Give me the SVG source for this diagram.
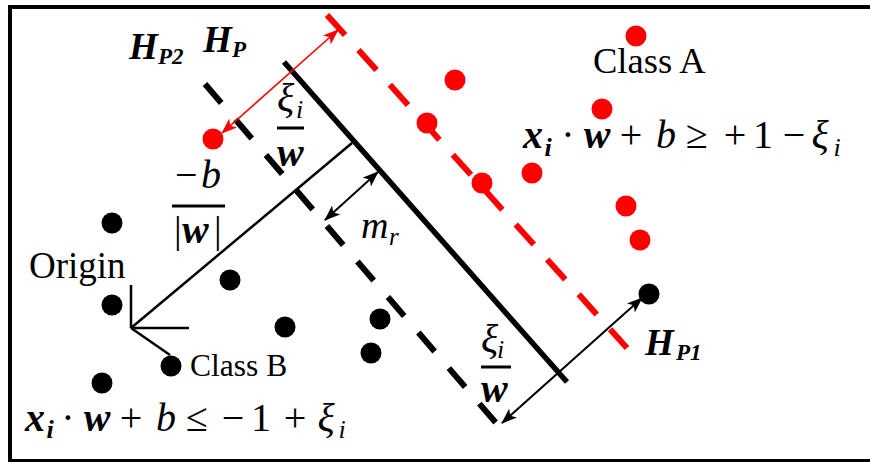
<svg xmlns="http://www.w3.org/2000/svg" width="870" height="462" viewBox="0 0 870 462">
<defs>
<style>
.t{font-family:"Liberation Serif","Times New Roman",serif;fill:#000}
.m{font-family:"Liberation Serif","Times New Roman",serif;font-style:italic;fill:#000}
.mb{font-family:"Liberation Serif","Times New Roman",serif;font-style:italic;font-weight:bold;fill:#000}
.eq text{text-anchor:middle}
.ra{fill:#ff0000}
.bk{fill:#000}
.arr{stroke:#000;stroke-width:2;fill:none;marker-start:url(#ah);marker-end:url(#ah)}
.rarr{stroke:#ff0000;stroke-width:1.6;fill:none;marker-start:url(#ahr);marker-end:url(#ahr)}
.bar{stroke:#000;stroke-width:3}
</style>
<marker id="ah" viewBox="0 0 16 12" refX="15" refY="6" markerWidth="16" markerHeight="12" markerUnits="userSpaceOnUse" orient="auto-start-reverse"><path d="M0,0 L16,6 L0,12 L4,6 z" fill="#000"/></marker>
<marker id="ahr" viewBox="0 0 16 12" refX="15" refY="6" markerWidth="16" markerHeight="12" markerUnits="userSpaceOnUse" orient="auto-start-reverse"><path d="M0,0 L16,6 L0,12 L4,6 z" fill="#ff0000"/></marker>
</defs>
<rect width="870" height="462" fill="#fff"/>
<rect id="frame" x="10" y="7" width="870" height="454" fill="none" stroke="#000" stroke-width="4"/>

<g id="hyperplanes">
<line id="HP2" x1="205" y1="84" x2="496" y2="423" stroke="#000" stroke-width="6" stroke-dasharray="25 21.8"/>
<line id="HP" x1="284" y1="62" x2="567" y2="382" stroke="#000" stroke-width="5.5"/>
<line id="HP1" x1="327" y1="15" x2="627" y2="348" stroke="#ff0000" stroke-width="6" stroke-dasharray="27 20"/>
</g>

<g id="axes" stroke="#000" stroke-width="2.5" fill="none">
<line x1="131" y1="285" x2="131" y2="328"/>
<line x1="131" y1="328" x2="189" y2="328"/>
<line x1="131" y1="328" x2="170" y2="355"/>
</g>

<g id="connectors">
<line id="normal" x1="131" y1="328" x2="352" y2="143" stroke="#000" stroke-width="2.5"/>
<line id="slackA" class="rarr" x1="222" y1="133" x2="338" y2="30"/>
<line id="margin" class="arr" x1="325" y1="220" x2="378" y2="172"/>
<line id="slackB" class="arr" x1="502" y1="423" x2="642" y2="298"/>
</g>

<g id="classA">
<circle class="ra" cx="213" cy="139" r="10.5"/>
<circle class="ra" cx="636" cy="36" r="10.5"/>
<circle class="ra" cx="455" cy="80" r="10.5"/>
<circle class="ra" cx="602" cy="109" r="10.5"/>
<circle class="ra" cx="427" cy="123" r="10.5"/>
<circle class="ra" cx="532" cy="173" r="10.5"/>
<circle class="ra" cx="482" cy="183" r="10.5"/>
<circle class="ra" cx="626" cy="206" r="10.5"/>
<circle class="ra" cx="640" cy="240" r="10.5"/>
</g>

<g id="classB">
<circle class="bk" cx="112" cy="223" r="10.5"/>
<circle class="bk" cx="112" cy="305" r="10.5"/>
<circle class="bk" cx="230" cy="280" r="10.5"/>
<circle class="bk" cx="285" cy="327" r="10.5"/>
<circle class="bk" cx="380" cy="319" r="10.5"/>
<circle class="bk" cx="371" cy="353" r="10.5"/>
<circle class="bk" cx="171" cy="366" r="10.5"/>
<circle class="bk" cx="102" cy="383" r="10.5"/>
<circle class="bk" cx="649" cy="294" r="10.5"/>
</g>

<g id="labels">
<text class="mb" x="129" y="59" font-size="37">H</text>
<text class="mb" x="158" y="64" font-size="23">P2</text>
<text class="mb" x="203" y="52" font-size="37">H</text>
<text class="mb" x="232" y="57" font-size="23">P</text>
<text class="mb" x="645" y="355" font-size="37">H</text>
<text class="mb" x="676" y="360" font-size="23">P1</text>

<text class="t" x="593" y="73" font-size="36.5">Class A</text>
<text class="t" x="29" y="278" font-size="37">Origin</text>
<text class="t" x="190" y="376" font-size="31.5">Class B</text>

<g id="frac1">
<text class="m" x="277" y="111" font-size="40">ξ</text>
<text class="m" x="296" y="118" font-size="26">i</text>
<line class="bar" x1="277" y1="128" x2="304" y2="128"/>
<text class="mb" x="277" y="166" font-size="40">w</text>
</g>
<g id="frac2">
<text class="m" x="175" y="188" font-size="40"><tspan font-style="normal">−</tspan><tspan x="201">b</tspan></text>
<line class="bar" x1="172" y1="206" x2="225" y2="206"/>
<text class="t" x="174" y="243" font-size="38">|</text>
<text class="mb" x="182" y="243" font-size="40">w</text>
<text class="t" x="214" y="243" font-size="38">|</text>
</g>
<g id="frac3">
<text class="m" x="481" y="352" font-size="40">ξ</text>
<text class="m" x="497" y="358" font-size="26">i</text>
<line class="bar" x1="481" y1="367" x2="511" y2="367"/>
<text class="mb" x="481" y="402" font-size="40">w</text>
</g>
<g id="mr">
<text class="m" x="361" y="238" font-size="38">m</text>
<text class="m" x="389" y="245" font-size="25">r</text>
</g>

<g id="eqA" class="eq" font-size="40">
<text class="mb" x="533" y="148">x</text>
<text class="mb" x="548" y="156" font-size="26">i</text>
<text class="t" x="568" y="148">·</text>
<text class="mb" x="597" y="148">w</text>
<text class="t" x="631" y="148">+</text>
<text class="m" x="666" y="148">b</text>
<text class="t" x="697" y="148">≥</text>
<text class="t" x="735" y="148">+</text>
<text class="t" x="763" y="148">1</text>
<text class="t" x="794" y="148">−</text>
<text class="m" x="820" y="148">ξ</text>
<text class="m" x="837" y="156" font-size="26">i</text>
</g>
<g id="eqB" class="eq" font-size="40">
<text class="mb" x="35" y="431">x</text>
<text class="mb" x="50" y="438" font-size="26">i</text>
<text class="t" x="68" y="431">·</text>
<text class="mb" x="97" y="431">w</text>
<text class="t" x="131" y="431">+</text>
<text class="m" x="166" y="431">b</text>
<text class="t" x="197" y="431">≤</text>
<text class="t" x="233" y="431">−</text>
<text class="t" x="261" y="431">1</text>
<text class="t" x="295" y="431">+</text>
<text class="m" x="326" y="431">ξ</text>
<text class="m" x="342" y="438" font-size="26">i</text>
</g>
</g>
</svg>
